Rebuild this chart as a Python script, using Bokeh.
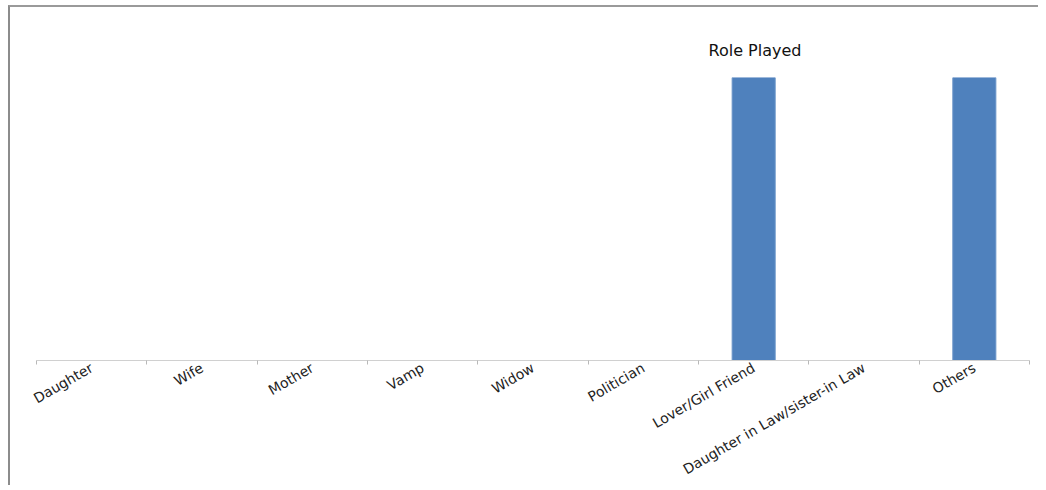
from math import pi
from bokeh.plotting import figure
from bokeh.models import Range1d, LinearAxis, FixedTicker, Title
from bokeh.embed import file_html
from bokeh.resources import INLINE

categories = ["Daughter", "Wife", "Mother", "Vamp", "Widow", "Politician",
              "Lover/Girl Friend", "Daughter in Law/sister-in Law", "Others"]
values = [0, 0, 0, 0, 0, 0, 1, 0, 1]
title_text = "Role Played"

FONT = "DejaVu Sans"

n = len(categories)
centers = [i + 0.5 for i in range(n)]
edges = list(range(n + 1))

p = figure(width=1030, height=480,
           x_range=Range1d(0, n),
           y_range=Range1d(0, 1),
           x_axis_location=None, y_axis_location=None,
           output_backend="svg", toolbar_location=None,
           min_border_left=26, min_border_right=11,
           min_border_top=70, min_border_bottom=124)
p.outline_line_color = None
p.xgrid.visible = False
p.ygrid.visible = False
p.background_fill_color = "white"
p.border_fill_color = "white"
p.styles = {"margin-left": "8px", "margin-top": "5px",
            "border-left": "2px solid #8c8c8c", "border-top": "2px solid #9a9a9a"}

p.vbar(x=centers, top=values, width=0.39, fill_color="#4f81bd",
       line_color="#6a94c8", line_width=1)

xaxis = LinearAxis(ticker=FixedTicker(ticks=centers, minor_ticks=edges),
                   major_label_overrides={c: lab for c, lab in zip(centers, categories)},
                   major_tick_line_color=None, major_tick_in=0, major_tick_out=0,
                   minor_tick_in=0, minor_tick_out=4,
                   minor_tick_line_color="#b8b8b8",
                   axis_line_color="#d0d0d0",
                   major_label_orientation=pi / 6,
                   major_label_standoff=2,
                   major_label_text_font=FONT,
                   major_label_text_font_size="14px",
                   major_label_text_color="#222222")
p.add_layout(xaxis, "below")

p.title = Title(text=title_text, align="left", offset=672,
                text_font=FONT, text_font_size="16px", text_font_style="normal",
                text_color="#111111", standoff=36)

open("out.html", "w").write(file_html(p, INLINE))
